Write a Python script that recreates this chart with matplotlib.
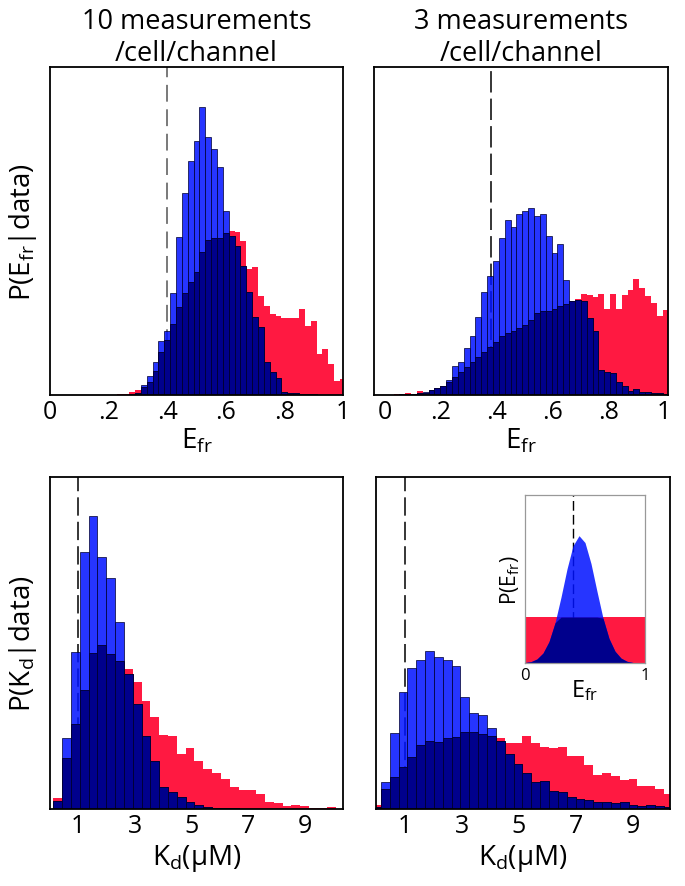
import numpy as np
import matplotlib
matplotlib.use("Agg")
import matplotlib.pyplot as plt

plt.rcParams['font.family'] = ['Open Sans', 'DejaVu Sans']
plt.rcParams['mathtext.fontset'] = 'custom'
plt.rcParams['mathtext.rm'] = 'Open Sans'
plt.rcParams['mathtext.it'] = 'Open Sans'
plt.rcParams['mathtext.default'] = 'regular'

# ---------------- data ----------------
# top-left: 10 measurements, E_fr histogram, bins centred at 0,0.02,...,1
tl_edges_start, tl_width = -0.01, 0.02
tl_blue = [0]*13 + [1, 3, 5, 31, 56, 100, 163, 193, 306, 475, 605, 703, 763, 863, 775, 738, 685,
                    551, 478, 448, 388, 308, 233, 203, 98, 68, 51, 10, 5, 5, 3, 2, 2, 1, 0, 0, 0, 0]
tl_red = [0]*12 + [2, 4, 8, 14, 25, 40, 72, 128, 165, 212, 263, 305, 340, 370, 430, 465, 470, 470,
                   485, 493, 488, 463, 378, 383, 298, 268, 243, 238, 230, 230, 230, 258, 208, 223,
                   123, 138, 93, 43, 48]

# top-right: 3 measurements, E_fr histogram
tr_edges_start, tr_width = -0.0119, 0.021
tr_blue = [0, 1, 1, 2, 2, 3, 5, 8, 14, 20, 27, 45, 88, 100, 140, 177, 233, 308, 355, 402, 469, 523,
           501, 542, 550, 558, 534, 542, 477, 425, 453, 345, 282, 283, 280, 230, 190, 75, 70, 65,
           40, 27, 13, 17, 10, 8, 5, 5, 3]
tr_red = [0, 1, 2, 2, 5, 3, 12, 5, 15, 20, 27, 38, 55, 70, 85, 100, 113, 130, 145, 160, 175, 185,
          190, 200, 208, 225, 245, 252, 250, 257, 265, 273, 280, 288, 303, 300, 293, 303, 257, 303,
          257, 300, 315, 347, 320, 297, 275, 235, 255]

# bottom-left: 10 measurements, Kd histogram
bl_edges_start, bl_width = 0.117, 0.3116
bl_blue = [23, 212, 470, 772, 878, 755, 693, 562, 405, 316, 218, 145, 65, 51, 35, 20, 12, 6, 4, 3,
           2, 1, 1, 0, 0, 0, 0, 0, 0, 0, 0, 0]
bl_red = [33, 152, 255, 357, 467, 492, 464, 444, 421, 382, 325, 275, 222, 219, 165, 182, 145, 120,
          108, 90, 65, 58, 58, 45, 20, 17, 10, 12, 8, 2, 4, 5]

# bottom-right: 3 measurements, Kd histogram
br_edges_start, br_width = -0.14, 0.31
br_blue = [5, 80, 227, 352, 422, 448, 475, 455, 448, 430, 335, 288, 282, 242, 205, 165, 135, 107,
           82, 85, 55, 50, 35, 30, 27, 20, 20, 18, 20, 13, 10, 13, 10, 7]
br_red = [13, 60, 95, 125, 155, 192, 205, 202, 212, 217, 230, 232, 225, 218, 212, 197, 197, 220,
          197, 185, 182, 185, 160, 160, 132, 102, 108, 98, 88, 90, 70, 68, 60, 45]

# inset: priors on E_fr (fraction of inset height)
inset_x = [0, .05, .10, .15, .20, .25, .30, .35, .40, .45, .50, .55, .60, .65, .70, .75, .80, .85,
           .90, .95, 1.0]
inset_blue = [0.003, 0.008, 0.024, 0.059, 0.127, 0.239, 0.392, 0.560, 0.698, 0.758, 0.717, 0.592,
              0.426, 0.267, 0.146, 0.070, 0.029, 0.010, 0.003, 0.001, 0.0]
inset_red = 0.273

true_efr = 0.4
true_kd = 1.0

efr_ticks = [0, 0.2, 0.4, 0.6, 0.8, 1.0]
efr_ticklabels = ['0', '.2', '.4', '.6', '.8', '1']
kd_ticks = [1, 3, 5, 7, 9]
kd_ticklabels = ['1', '3', '5', '7', '9']

titles = ['10 measurements\n/cell/channel', '3 measurements\n/cell/channel']

# ---------------- style ----------------
RED = '#FF1941'
BLUE = '#0012FF'
NAVY = '#00008C'
EDGE = '#000030'

W, H = 685, 887
fig = plt.figure(figsize=(W/100, H/100), dpi=100)


def ax_at(x0, y0, x1, y1):
    return fig.add_axes([x0/W, 1 - y1/H, (x1-x0)/W, (y1-y0)/H])


def hist_panel(ax, start, width, blue, red, xlim, ylim, vline, vcolor, dashes):
    n = len(blue)
    lefts = start + width*np.arange(n)
    blue = np.asarray(blue, float)
    red = np.asarray(red, float)
    ax.bar(lefts, red, width=width, align='edge', color=RED, linewidth=0, zorder=1)
    ax.axvline(vline, color=vcolor, lw=1.1, dashes=dashes, zorder=2)
    ax.bar(lefts, blue, width=width, align='edge', color=BLUE, alpha=0.85,
           edgecolor=EDGE, linewidth=0.6, zorder=3)
    ov = np.minimum(blue, red)
    ax.bar(lefts, ov, width=width, align='edge', color=NAVY,
           edgecolor=EDGE, linewidth=0.6, zorder=4)
    ax.set_xlim(*xlim)
    ax.set_ylim(0, ylim)
    ax.set_yticks([])
    for s in ax.spines.values():
        s.set_linewidth(1.3)
        s.set_zorder(6)
    ax.tick_params(axis='x', length=0, labelsize=18, pad=3)


ax1 = ax_at(50, 68, 343, 396)
hist_panel(ax1, tl_edges_start, tl_width, tl_blue, tl_red, (0, 1), 984, true_efr, '#555555', (11, 5))
ax1.set_xticks(efr_ticks, efr_ticklabels)
ax1.set_xlabel('E$_{fr}$', fontsize=20, labelpad=1)
ax1.set_ylabel('P(E$_{fr}$|data)', fontsize=20, labelpad=8)

ax2 = ax_at(374, 68, 668, 396)
hist_panel(ax2, tr_edges_start, tr_width, tr_blue, tr_red, (-0.04, 1.015), 981, 0.38, 'black', (14, 4))
ax2.set_xticks(efr_ticks, efr_ticklabels)
ax2.set_xlabel('E$_{fr}$', fontsize=20, labelpad=1)

ax3 = ax_at(50, 478, 343, 810)
hist_panel(ax3, bl_edges_start, bl_width, bl_blue, bl_red, (0, 10.35), 996, true_kd, 'black', (12, 4))
ax3.set_xticks(kd_ticks, kd_ticklabels)
ax3.set_xlabel('K$_d$(μM)', fontsize=20, labelpad=3)
ax3.set_ylabel('P(K$_d$|data)', fontsize=20, labelpad=8)

ax4 = ax_at(376, 478, 670, 810)
hist_panel(ax4, br_edges_start, br_width, br_blue, br_red, (0, 10.3), 996, true_kd, 'black', (12, 4))
ax4.set_xticks(kd_ticks, kd_ticklabels)
ax4.set_xlabel('K$_d$(μM)', fontsize=20, labelpad=3)

for ax, t in zip([ax1, ax2], titles):
    pos = ax.get_position()
    fig.text((pos.x0 + pos.x1)/2, 1 - 8/H, t, ha='center', va='top', fontsize=19.5,
             linespacing=1.2)

# inset
axi = ax_at(525, 496, 645, 664)
ix = np.asarray(inset_x)
ib = np.asarray(inset_blue)
axi.fill_between(ix, 0, inset_red, color=RED, linewidth=0, zorder=1)
axi.axvline(true_efr, color='black', lw=1.0, dashes=(7, 3), zorder=2)
axi.fill_between(ix, 0, ib, color=BLUE, alpha=0.85, linewidth=0, zorder=3)
axi.fill_between(ix, 0, np.minimum(ib, inset_red), color=NAVY, linewidth=0, zorder=4)
axi.set_xlim(0, 1)
axi.set_ylim(0, 1)
axi.set_yticks([])
axi.set_xticks([0, 1], ['0', '1'])
axi.tick_params(axis='x', length=0, labelsize=12, pad=3)
for s in axi.spines.values():
    s.set_color('#999999')
    s.set_linewidth(0.9)
    s.set_zorder(6)
axi.set_xlabel('E$_{fr}$', fontsize=17, labelpad=-4)
axi.set_ylabel('P(E$_{fr}$)', fontsize=15, labelpad=2)

fig.savefig('out.png', dpi=100)
